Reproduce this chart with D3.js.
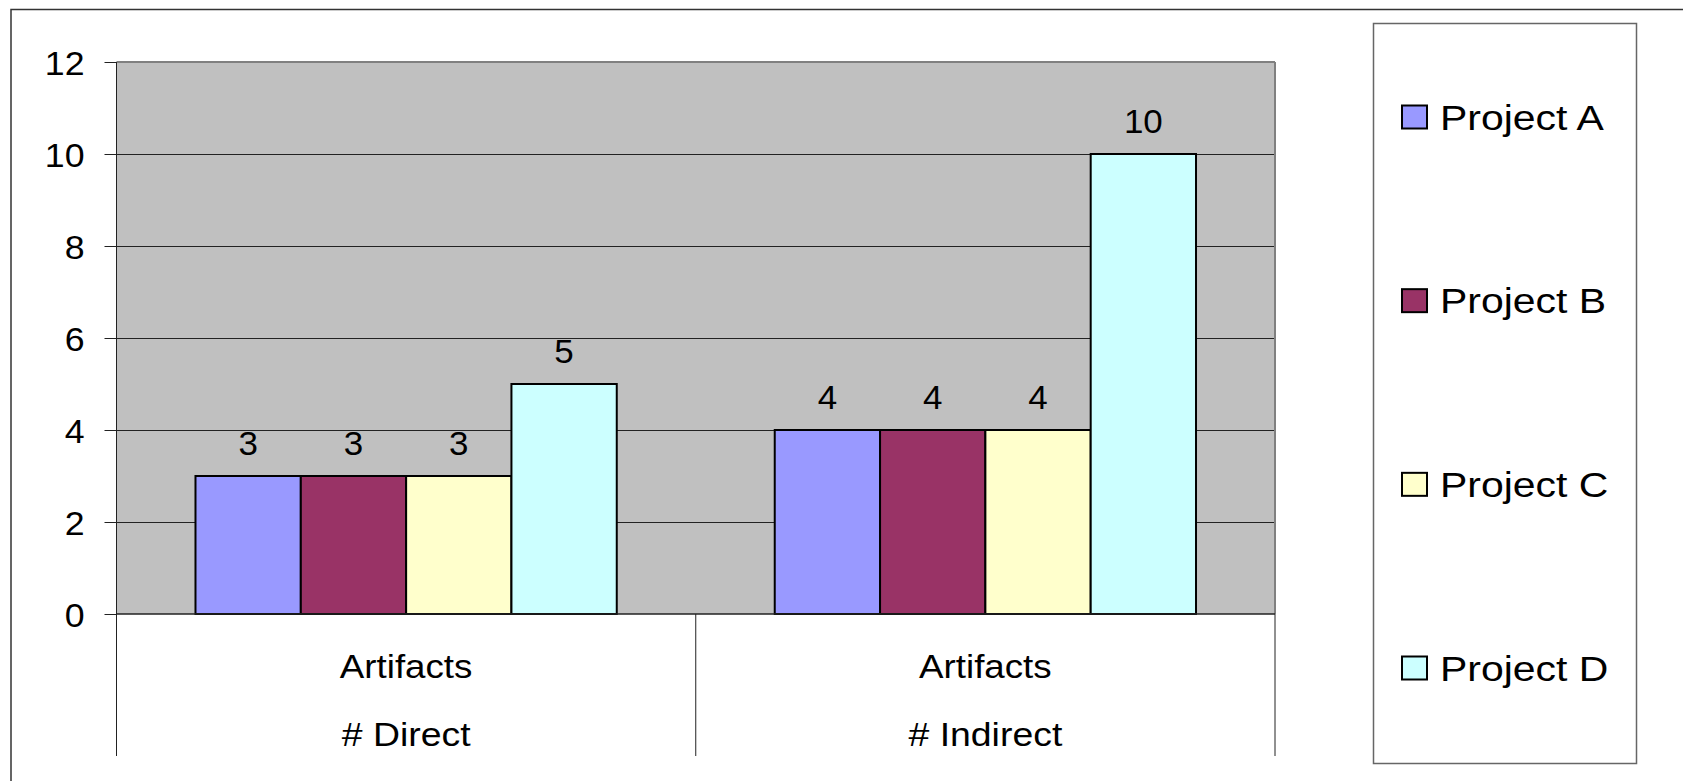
<!DOCTYPE html>
<html>
<head>
<meta charset="utf-8">
<script src="https://cdn.jsdelivr.net/npm/d3@7"></script>
<style>
  html, body { margin: 0; padding: 0; background: #fff; }
  svg { display: block; }
  text { font-family: "Liberation Sans", Arial, sans-serif; fill: #000; }
</style>
</head>
<body>
<script>
const categories = ["# Direct", "# Indirect"];
const categoryPrefix = ["Artifacts", "Artifacts"];
const seriesNames = ["Project A", "Project B", "Project C", "Project D"];
const projectA = [3, 4];
const projectB = [3, 4];
const projectC = [3, 4];
const projectD = [5, 10];
const yTicks = [0, 2, 4, 6, 8, 10, 12];
const colors = ["#9999FF", "#993366", "#FFFFCC", "#CCFFFF"];

const seriesValues = [projectA, projectB, projectC, projectD];

const W = 1683, H = 781;
const plot = { left: 116.5, right: 1275, top: 62, bottom: 614 };

const svg = d3.select("body").append("svg").attr("width", W).attr("height", H);

function stretch(sel, factor) {
  sel.each(function() {
    const len = this.getComputedTextLength();
    d3.select(this).attr("textLength", len * factor).attr("lengthAdjust", "spacingAndGlyphs");
  });
}

// outer chart border (clipped on right/bottom like reference)
svg.append("rect").attr("x", 11).attr("y", 9.5).attr("width", W + 20).attr("height", H + 20)
  .attr("fill", "#fff").attr("stroke", "#333").attr("stroke-width", 1.5);

const x0 = d3.scaleBand().domain(categories).range([plot.left, plot.right]).padding(0);
const x1 = d3.scaleBand().domain(seriesNames).range([0, x0.bandwidth()]).paddingInner(0).paddingOuter(0.75);
const y = d3.scaleLinear().domain([0, 12]).range([plot.bottom, plot.top]);

// plot background
svg.append("rect").attr("x", plot.left).attr("y", plot.top)
  .attr("width", plot.right - plot.left).attr("height", plot.bottom - plot.top)
  .attr("fill", "#C0C0C0");

// gridlines
svg.append("g").selectAll("line").data(yTicks.filter(t => t > 0 && t < 12)).join("line")
  .attr("x1", plot.left).attr("x2", plot.right)
  .attr("y1", d => Math.round(y(d)) + 0.5).attr("y2", d => Math.round(y(d)) + 0.5)
  .attr("stroke", "#222").attr("stroke-width", 1);

// plot border top/right
svg.append("line").attr("x1", plot.left).attr("x2", plot.right).attr("y1", plot.top).attr("y2", plot.top)
  .attr("stroke", "#808080").attr("stroke-width", 2);
svg.append("line").attr("x1", plot.right).attr("x2", plot.right).attr("y1", plot.top).attr("y2", plot.bottom)
  .attr("stroke", "#808080").attr("stroke-width", 2);

// y axis
const yAxis = d3.axisLeft(y).tickValues(yTicks).tickSize(12).tickPadding(20).tickFormat(d3.format("d"));
const yg = svg.append("g").attr("transform", `translate(${plot.left},0)`).call(yAxis);
yg.select(".domain").remove();
yg.selectAll(".tick line").attr("stroke", "#222");
yg.selectAll(".tick text").attr("font-size", 34).attr("font-family", "Liberation Sans, Arial, sans-serif").attr("fill", "#000").attr("dy", "0.36em");
stretch(yg.selectAll(".tick text"), 1.05);
svg.append("line").attr("x1", plot.left).attr("x2", plot.left).attr("y1", plot.top).attr("y2", 756)
  .attr("stroke", "#222").attr("stroke-width", 1);

// bars
const groups = svg.append("g").selectAll("g").data(categories).join("g")
  .attr("transform", c => `translate(${x0(c)},0)`);
groups.each(function(c, ci) {
  const g = d3.select(this);
  const rows = seriesNames.map((s, si) => ({ s, si, v: seriesValues[si][ci] }));
  g.selectAll("rect").data(rows).join("rect")
    .attr("x", d => x1(d.s)).attr("width", x1.bandwidth())
    .attr("y", d => y(d.v)).attr("height", d => y(0) - y(d.v))
    .attr("fill", d => colors[d.si]).attr("stroke", "#000").attr("stroke-width", 2);
  const t = g.selectAll("text").data(rows).join("text")
    .attr("x", d => x1(d.s) + x1.bandwidth() / 2).attr("y", d => y(d.v) - 21)
    .attr("text-anchor", "middle").attr("font-size", 33).text(d => d.v);
  stretch(t, 1.06);
});

// x axis baseline
svg.append("line").attr("x1", plot.left).attr("x2", plot.right).attr("y1", plot.bottom).attr("y2", plot.bottom)
  .attr("stroke", "#222").attr("stroke-width", 1.5);

// category dividers
const dividers = [plot.left + x0.step(), plot.right];
svg.append("g").selectAll("line").data(dividers).join("line")
  .attr("x1", d => d).attr("x2", d => d).attr("y1", plot.bottom).attr("y2", 756)
  .attr("stroke", "#222").attr("stroke-width", 1);

// category labels
const cl = svg.append("g").selectAll("g").data(categories).join("g");
const c1 = cl.append("text").attr("x", c => x0(c) + x0.bandwidth() / 2).attr("y", 678)
  .attr("text-anchor", "middle").attr("font-size", 34).text((c, i) => categoryPrefix[i]);
const c2 = cl.append("text").attr("x", c => x0(c) + x0.bandwidth() / 2).attr("y", 746)
  .attr("text-anchor", "middle").attr("font-size", 34).text(c => c);
stretch(c1, 1.08);
stretch(c2, 1.1);

// legend
svg.append("rect").attr("x", 1373.5).attr("y", 23.5).attr("width", 263).attr("height", 740)
  .attr("fill", "#fff").attr("stroke", "#666").attr("stroke-width", 1.5);
const ly = d3.scalePoint().domain(seriesNames).range([117, 668]);
const li = svg.append("g").selectAll("g").data(seriesNames).join("g")
  .attr("transform", s => `translate(0,${ly(s)})`);
li.append("rect").attr("x", 1402).attr("y", -11.5).attr("width", 25).attr("height", 23)
  .attr("fill", (s, i) => colors[i]).attr("stroke", "#000").attr("stroke-width", 2);
const lt = li.append("text").attr("x", 1440).attr("y", 12.5).attr("font-size", 35).text(s => s);
stretch(lt, 1.17);
</script>
</body>
</html>
